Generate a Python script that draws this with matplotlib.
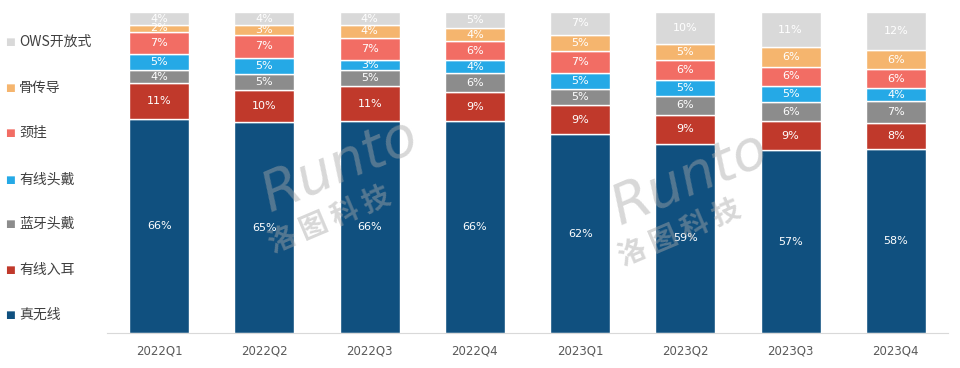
import matplotlib.pyplot as plt
import numpy as np

plt.rcParams["font.family"] = ["Noto Sans CJK SC", "DejaVu Sans"]

# =====================================================
# データ
# =====================================================
quarters = ["2022Q1", "2022Q2", "2022Q3", "2022Q4",
            "2023Q1", "2023Q2", "2023Q3", "2023Q4"]

tws = [66, 65, 66, 66, 62, 59, 57, 58]       # 真无线
wired_in = [11, 10, 11, 9, 9, 9, 9, 8]       # 有线入耳
bt_head = [4, 5, 5, 6, 5, 6, 6, 7]           # 蓝牙头戴
wired_head = [5, 5, 3, 4, 5, 5, 5, 4]        # 有线头戴
neck = [7, 7, 7, 6, 7, 6, 6, 6]              # 颈挂
bone = [2, 3, 4, 4, 5, 5, 6, 6]              # 骨传导
ows = [4, 4, 4, 5, 7, 10, 11, 12]            # OWS开放式

series = [
    ("真无线", tws, "#10507f"),
    ("有线入耳", wired_in, "#c0392b"),
    ("蓝牙头戴", bt_head, "#8c8c8c"),
    ("有线头戴", wired_head, "#25a9e6"),
    ("颈挂", neck, "#f26d64"),
    ("骨传导", bone, "#f5b56e"),
    ("OWS开放式", ows, "#d9d9d9"),
]

# =====================================================
# グラフ作成
# =====================================================
fig = plt.figure(figsize=(9.6, 3.68), dpi=100)
ax = fig.add_axes([0.111, 0.095, 0.877, 0.872])

x = np.arange(len(quarters))
data = np.array([s[1] for s in series], dtype=float)
totals = data.sum(axis=0)
pct = data / totals * 100   # 100%積み上げ

bottom = np.zeros(len(quarters))
for (name, vals, color), p in zip(series, pct):
    ax.bar(x, p, 0.57, bottom=bottom, color=color,
           edgecolor="white", linewidth=1.0)
    for i, v in enumerate(vals):
        ax.text(x[i], bottom[i] + p[i] / 2, f"{v}%",
                ha="center", va="center", color="white", fontsize=8,
                family=["DejaVu Sans"])
    bottom += p

ax.set_xlim(-0.5, len(quarters) - 0.5)
ax.set_ylim(0, 100)
ax.set_yticks([])
ax.set_xticks(x)
ax.set_xticklabels(quarters, fontsize=8.5, color="#595959",
                   family=["Liberation Sans Narrow", "DejaVu Sans"])
ax.tick_params(axis="x", length=0, pad=8)
for sp in ["top", "right", "left"]:
    ax.spines[sp].set_visible(False)
ax.spines["bottom"].set_color("#d9d9d9")

# 凡例（左側に縦並び）
legend_y = [42, 88, 133, 180, 224, 270, 315]
for (name, vals, color), yy in zip(series[::-1], legend_y):
    fy = 1 - yy / 368
    fig.text(10 / 960, fy, "■", color=color, fontsize=7.5,
             ha="center", va="center", family=["DejaVu Sans"])
    fig.text(19 / 960, fy, name, color="#404040", fontsize=10,
             ha="left", va="center")

# 透かし
for cx, cy in [(340, 165), (690, 178)]:
    fig.text(cx / 960, 1 - cy / 368, "Runto", fontsize=40, color="#a8a8a8",
             alpha=0.45, rotation=23, ha="center", va="center",
             family=["DejaVu Sans"], style="italic")
    fig.text((cx - 10) / 960, 1 - (cy + 55) / 368, "洛 图 科 技", fontsize=20,
             color="#a8a8a8", alpha=0.45, rotation=23, ha="center",
             va="center", weight="bold")

fig.savefig("out.png", dpi=100)
